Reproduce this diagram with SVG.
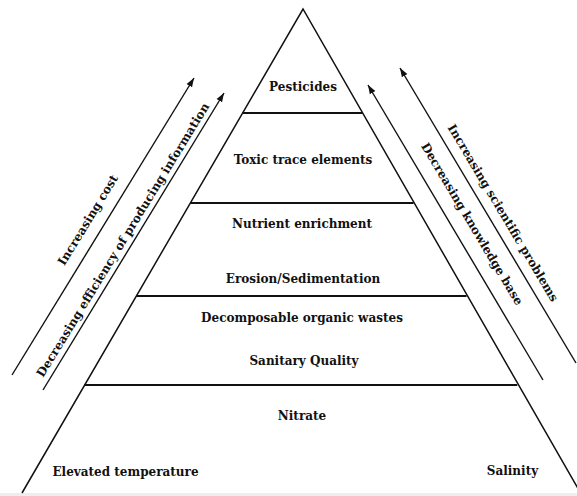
<svg xmlns="http://www.w3.org/2000/svg" width="577" height="496" viewBox="0 0 577 496">
<style>
.edge{stroke:#111;stroke-width:1.5;fill:none}
.tier{stroke:#111;stroke-width:2;fill:none}
.arr{stroke:#111;stroke-width:1.4;fill:none;marker-end:url(#ah)}
text{font-family:"DejaVu Serif","Liberation Serif",serif;font-weight:bold;font-size:12px;fill:#111;text-anchor:middle}
</style>
<defs>
<marker id="ah" markerWidth="10" markerHeight="8" refX="9" refY="4" orient="auto" markerUnits="userSpaceOnUse">
<path d="M0,0.8 L9,4 L0,7.2 Z" fill="#111"/>
</marker>
</defs>
<rect width="577" height="496" fill="#fff"/>
<rect x="0" y="493" width="577" height="3" fill="#eeeeee"/>
<g id="pyramid">
<path class="edge" d="M22,493 L303,9 L580,492"/>
<line class="tier" x1="242.6" y1="113" x2="362.3" y2="113"/>
<line class="tier" x1="190.3" y1="203" x2="413.6" y2="203"/>
<line class="tier" x1="136.3" y1="296" x2="466.6" y2="296"/>
<line class="tier" x1="84.5" y1="385" x2="517.3" y2="385"/>
</g>
<g id="connectors">
<line class="arr" x1="12" y1="375" x2="194" y2="78"/>
<line class="arr" x1="43" y1="390" x2="224" y2="93"/>
<line class="arr" x1="576" y1="363" x2="400" y2="68"/>
<line class="arr" x1="543" y1="380" x2="368" y2="85"/>
</g>
<g id="n-pesticides"><text x="303" y="91">Pesticides</text></g>
<g id="n-toxic"><text x="303" y="164">Toxic trace elements</text></g>
<g id="n-nutrient"><text x="302" y="228">Nutrient enrichment</text></g>
<g id="n-erosion"><text x="303" y="283">Erosion/Sedimentation</text></g>
<g id="n-decomposable"><text x="302" y="322">Decomposable organic wastes</text></g>
<g id="n-sanitary"><text x="304" y="365">Sanitary Quality</text></g>
<g id="n-nitrate"><text x="302" y="420">Nitrate</text></g>
<g id="n-elevated"><text x="125.5" y="476">Elevated temperature</text></g>
<g id="n-salinity"><text x="512.5" y="475">Salinity</text></g>
<g id="l-cost"><text transform="translate(88,220) rotate(-58.5)" y="4">Increasing cost</text></g>
<g id="l-efficiency"><text transform="translate(123,240) rotate(-58.5)" y="4">Decreasing efficiency of producing information</text></g>
<g id="l-scientific"><text transform="translate(503,213) rotate(59.2)" y="4">Increasing scientific problems</text></g>
<g id="l-knowledge"><text transform="translate(472,224) rotate(59.2)" y="4">Decreasing knowledge base</text></g>
</svg>
